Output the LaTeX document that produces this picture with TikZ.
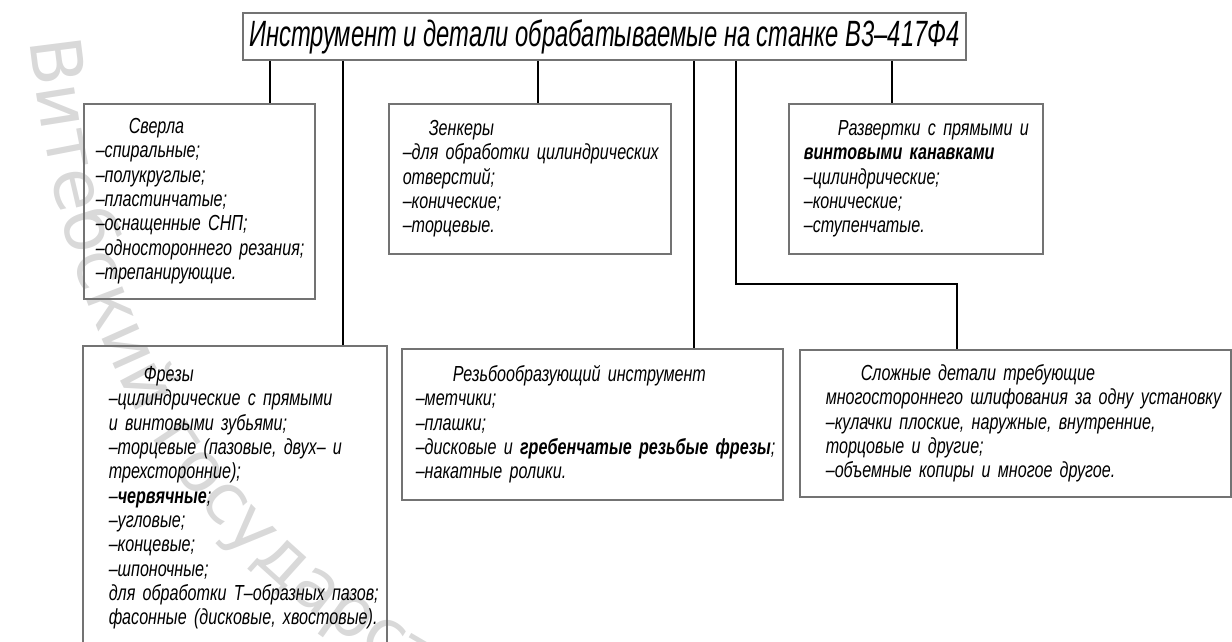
\documentclass[tikz,border=0pt]{standalone}
\usepackage{fontspec}
\newfontfamily\gost{Liberation Sans}[UprightFont={* Italic}, BoldFont={* Bold Italic}, FakeStretch=0.74]
\newfontfamily\gosttitle{Liberation Sans}[UprightFont={* Italic}, FakeStretch=0.65]
\newfontfamily\wmfont{DejaVu Sans}
\newcommand\wmstyle{\wmfont\fontsize{50}{54}\selectfont}
\usetikzlibrary{positioning, calc, decorations.text}
\definecolor{boxgray}{gray}{0.45}
\definecolor{wmgray}{gray}{0.85}
\tikzset{
  box/.style 2 args={draw=boxgray, line width=1.1pt, anchor=north west, align=left,
    inner xsep=0pt, inner ysep=0pt, text width=#1,
    execute at begin node={\leftskip=#2\rightskip=0pt plus 1fil minus 5cm},
    font=\gost\fontsize{15.5}{17.3}\selectfont},
  titlebox/.style={draw=boxgray, line width=1.1pt, inner sep=0pt,
    font=\gosttitle\fontsize{26}{28}\selectfont},
  conn/.style={line width=1.7pt},
}

\begin{document}
\begin{tikzpicture}[x=0.025cm, y=-0.025cm]
  \useasboundingbox (0,0) rectangle (1232,642);
  \clip (0,0) rectangle (1232,642);

  % watermark
  \path[decorate, decoration={text along path, text color=wmgray,
      text={|\wmstyle|Витебский государственный}}]
    (30,40) .. controls (75,440) and (240,640) .. (660,790);

  \node[titlebox, minimum width=18.075cm, minimum height=1.175cm] (top) at (604.5,36.5)
    {Инструмент и детали обрабатываемые на станке В3–417Ф4};

  % upper row
  \node[box={5.775cm}{0.3cm}, minimum height=4.875cm] (sverla) at (83,103)
    {\hspace*{0.825cm}Сверла\\
     –спиральные;\\
     –полукруглые;\\
     –пластинчатые;\\
     –оснащенные СНП;\\
     –одностороннего резания;\\
     –трепанирующие.};
  \node[box={7.05cm}{0.35cm}, minimum height=3.75cm] (zenk) at (388,103)
    {\hspace*{0.65cm}Зенкеры\\
     –для обработки цилиндрических\\
     отверстий;\\
     –конические;\\
     –торцевые.};
  \node[box={6.35cm}{0.375cm}, minimum height=3.75cm] (razv) at (788,103)
    {\hspace*{0.85cm}Развертки с прямыми и\\
     \textbf{винтовыми канавками}\\
     –цилиндрические;\\
     –конические;\\
     –ступенчатые.};

  % lower row
  \node[box={7.6cm}{0.65cm}, minimum height=7.6cm] (frez) at (82,345)
    {\hspace*{0.875cm}Фрезы\\
     –цилиндрические с прямыми\\
     и винтовыми зубьями;\\
     –торцевые (пазовые, двух– и\\
     трехсторонние);\\
     –\textbf{червячные};\\
     –угловые;\\
     –концевые;\\
     –шпоночные;\\
     для обработки Т–образных пазов;\\
     фасонные (дисковые, хвостовые).};
  \node[box={9.525cm}{0.35cm}, minimum height=3.775cm] (rezb) at (401,348)
    {\hspace*{0.925cm}Резьбообразующий инструмент\\
     –метчики;\\
     –плашки;\\
     –дисковые и \textbf{гребенчатые резьбые фрезы};\\
     –накатные ролики.};
  \node[box={10.775cm}{0.65cm}, minimum height=3.675cm] (slozh) at (799,349)
    {\hspace*{0.875cm}Сложные детали требующие\\
     многостороннего шлифования за одну установку\\
     –кулачки плоские, наружные, внутренние,\\
     торцовые и другие;\\
     –объемные копиры и многое другое.};

  % connectors
  \coordinate (c1) at (270,0);
  \coordinate (c2) at (343,0);
  \coordinate (c3) at (538,0);
  \coordinate (c4) at (694,0);
  \coordinate (c5) at (736,0);
  \coordinate (c6) at (892,0);
  \coordinate (elb) at (957,284);
  \draw[conn] (top.south -| c1) -- (sverla.north -| c1);
  \draw[conn] (top.south -| c2) -- (frez.north -| c2);
  \draw[conn] (top.south -| c3) -- (zenk.north -| c3);
  \draw[conn] (top.south -| c4) -- (rezb.north -| c4);
  \draw[conn] (top.south -| c5) |- (elb) -- (slozh.north -| elb);
  \draw[conn] (top.south -| c6) -- (razv.north -| c6);
\end{tikzpicture}
\end{document}
